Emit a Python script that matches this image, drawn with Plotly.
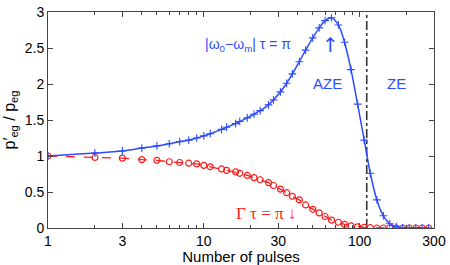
import plotly.graph_objects as go

pulses = [1, 2, 3, 4, 5, 6, 7, 8, 9, 10, 11, 13, 14, 16, 17, 19, 21, 23, 26, 28, 31, 34, 37, 41, 45,
          50, 55, 60, 66, 73, 80, 88, 97, 107, 117, 129, 142, 156, 172, 189, 208, 229, 252, 277]
blue_vals = [1.00, 1.04, 1.07, 1.11, 1.14, 1.17, 1.20, 1.22, 1.25, 1.28, 1.31, 1.37, 1.40, 1.45, 1.48,
             1.53, 1.58, 1.63, 1.71, 1.78, 1.89, 2.01, 2.14, 2.31, 2.47, 2.64, 2.78, 2.88, 2.92, 2.82,
             2.58, 2.20, 1.72, 1.22, 0.76, 0.39, 0.17, 0.06, 0.02, 0.005, 0.0, 0.0, 0.0, 0.0]
red_vals = [1.00, 0.98, 0.97, 0.95, 0.94, 0.92, 0.91, 0.90, 0.89, 0.87, 0.85, 0.82, 0.80, 0.78, 0.76,
            0.73, 0.70, 0.67, 0.63, 0.59, 0.54, 0.49, 0.44, 0.39, 0.32, 0.26, 0.21, 0.16, 0.11, 0.08,
            0.05, 0.03, 0.015, 0.008, 0.004, 0.0, 0.0, 0.0, 0.0, 0.0, 0.0, 0.0, 0.0, 0.0]
ze_boundary = 111
x_tickvals = [1, 3, 10, 30, 100, 300]
x_minor = [2, 4, 5, 6, 7, 8, 9, 20, 40, 50, 60, 70, 80, 90, 200]
y_tickvals = [0, 0.5, 1, 1.5, 2, 2.5, 3]
y_ticktext = ["0", "0.5", "1", "1.5", "2", "2.5", "3"]

BLUE = "#2b4bff"
RED = "#ff1a1a"
FONT = "Liberation Sans, Arial, sans-serif"

fig = go.Figure()
fig.add_trace(go.Scatter(x=[ze_boundary, ze_boundary], y=[0, 3], mode="lines",
                         line=dict(color="#333333", width=1.6, dash="dashdot"), hoverinfo="skip"))
fig.add_trace(go.Scatter(x=pulses, y=red_vals, mode="lines+markers",
                         line=dict(color=RED, width=1.3, dash="dash"),
                         marker=dict(symbol="circle-open", size=6, color=RED, line=dict(width=1.2, color=RED))))
fig.add_trace(go.Scatter(x=pulses, y=blue_vals, mode="lines+markers", line_shape="spline",
                         line=dict(color=BLUE, width=1.5, smoothing=0.8),
                         marker=dict(symbol="cross-thin-open", size=5.5, color=BLUE, line=dict(width=1.1, color=BLUE))))

axis_common = dict(showgrid=False, zeroline=False, showline=True, linecolor="#444444", linewidth=1,
                   mirror="allticks", ticks="inside", tickcolor="#444444", ticklen=5, automargin=False,
                   tickfont=dict(family=FONT, size=14, color="black"))

fig.update_xaxes(type="log", range=[0, 2.4771], tickvals=x_tickvals,
                 ticktext=[str(v) for v in x_tickvals],
                 minor=dict(tickvals=x_minor, ticks="inside", ticklen=3, tickcolor="#444444"),
                 title=dict(text="Number of pulses", font=dict(family=FONT, size=15, color="black"), standoff=0),
                 **axis_common)
fig.update_yaxes(range=[0, 3], tickvals=y_tickvals, ticktext=y_ticktext,
                 title=dict(text="p′<sub>eg</sub> / p<sub>eg</sub>", font=dict(family=FONT, size=16, color="black"), standoff=5),
                 **axis_common)

anns = [
    dict(x=0.635, y=0.847, xanchor="right", yanchor="middle",
         text="|ω<sub>0</sub>−ω<sub>m</sub>| τ = π", font=dict(family=FONT, size=14, color=BLUE)),
    dict(x=0.731, y=0.845, xanchor="center", yanchor="middle", text="↑",
         font=dict(family="DejaVu Sans", size=20, color=BLUE)),
    dict(x=0.723, y=0.671, xanchor="center", yanchor="middle", text="AZE",
         font=dict(family=FONT, size=15, color=BLUE)),
    dict(x=0.904, y=0.671, xanchor="center", yanchor="middle", text="ZE",
         font=dict(family=FONT, size=15, color=BLUE)),
    dict(x=0.565, y=0.065, xanchor="center", yanchor="middle", text="Γ τ = π ↓",
         font=dict(family="Liberation Serif, Times New Roman, serif", size=17, color=RED)),
]
for a in anns:
    a.update(xref="paper", yref="paper", showarrow=False)
fig.update_layout(annotations=anns)

fig.update_layout(width=450, height=265, margin=dict(l=48, r=16, t=12, b=37),
                  paper_bgcolor="white", plot_bgcolor="white", showlegend=False)
fig.write_html("out.html", config={"displayModeBar": False},
               post_script="document.body.style.margin='0';document.body.style.overflow='hidden';")
